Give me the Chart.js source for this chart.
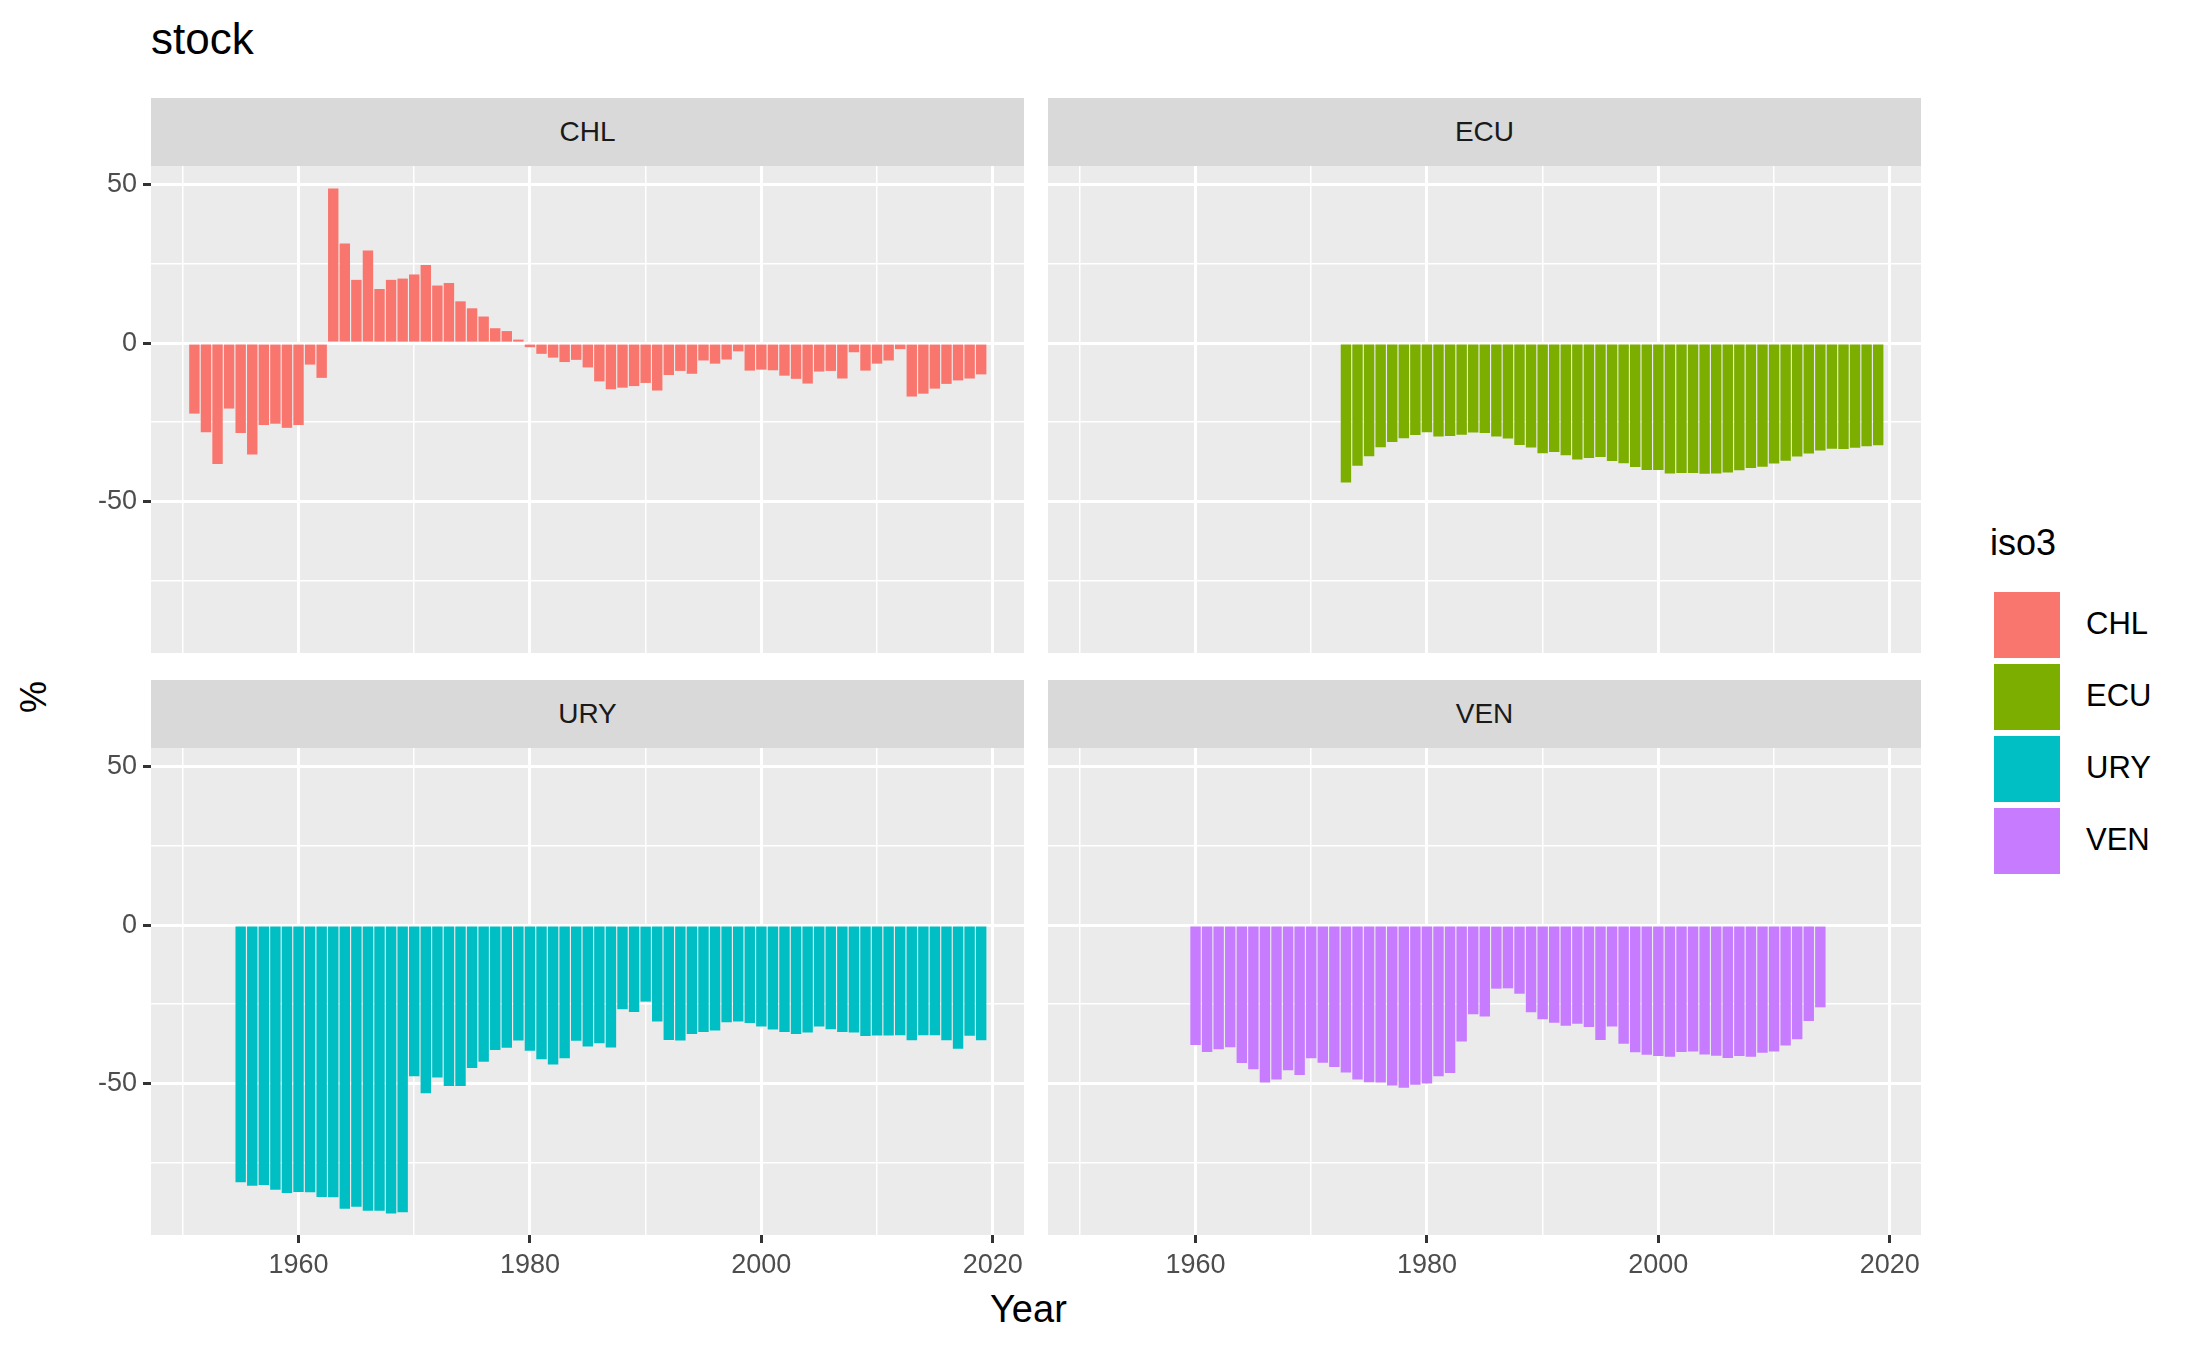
<!DOCTYPE html>
<html>
<head>
<meta charset="utf-8">
<script src="https://cdn.jsdelivr.net/npm/chart.js@4"></script>
<style>
  body { margin: 0; background: #fff; font-family: "Liberation Sans", Arial, sans-serif; }
  #page { position: relative; width: 2189px; height: 1352px; }
  .abs { position: absolute; }
  .strip { position: absolute; background: #D9D9D9; color: #1A1A1A; font-size: 28px;
           display: flex; align-items: center; justify-content: center; }
  .key { position: absolute; width: 66px; height: 66px; }
  .lab { position: absolute; font-size: 31px; color: #000; }
</style>
</head>
<body>
<div id="page">
  <div class="abs" style="left:151px;top:14px;font-size:44px;">stock</div>
  <div class="abs" style="left:990px;top:1288px;font-size:38px;">Year</div>
  <div class="abs" style="left:18px;top:676px;font-size:36px;transform:rotate(-90deg);transform-origin:center;">%</div>
  <div class="abs" style="left:1990px;top:522px;font-size:36px;">iso3</div>
</div>
<script>
const countries = ["CHL", "ECU", "URY", "VEN"];
const colors = ["#F8766D", "#7CAE00", "#00BFC4", "#C77CFF"];
const startYears = [1951, 1973, 1955, 1960];

const chlValues = [-22.3, -28.2, -38.2, -20.7, -28.4, -35.2, -25.9, -25.5, -26.8, -25.9, -6.8, -11,
  48.9, 31.5, 20, 29.3, 17.1, 20, 20.4, 21.7, 24.7, 18.2, 19, 13.2, 11, 8.4, 4.7, 3.8, 1.1,
  -1.3, -3.4, -4.6, -6, -5.3, -7.7, -12.1, -14.6, -14.1, -13.6, -12.6, -15, -10.1, -8.8, -9.7,
  -5.5, -6.5, -5.2, -2.6, -8.7, -8.4, -8.6, -10.3, -11.3, -12.8, -9, -8.8, -11.2, -2.9, -8.7,
  -6.5, -5.5, -1.9, -16.9, -16, -14.4, -12.9, -11.8, -11.2, -9.9];
const ecuValues = [-44.1, -38.8, -35.8, -32.9, -31.3, -30.1, -29.1, -28.2, -29.5, -29.4, -29,
  -28.3, -28.4, -29.5, -30.2, -32.2, -33, -34.8, -34.4, -35.5, -36.8, -36.3, -36, -37.3, -38,
  -39.2, -40.1, -40.1, -41.2, -41.1, -41.1, -41.3, -41.2, -40.9, -40.2, -39.5, -39.1, -38.1,
  -37.2, -35.9, -34.9, -34, -33.4, -33.5, -33.1, -32.6, -32.3];
const uryValues = [-81.3, -82.4, -82.2, -83.7, -84.7, -84.4, -84.5, -86, -86.1, -89.7, -89.1,
  -90.3, -90.3, -91.2, -90.8, -47.8, -53.2, -48.2, -50.9, -50.9, -45.2, -43.2, -39.5, -38.8,
  -36.5, -39.7, -42.4, -44.1, -42.1, -36.6, -38.4, -37.4, -38.7, -26.6, -27.5, -24.2, -30.5,
  -36.3, -36.5, -34.4, -33.8, -33.3, -30.7, -30.5, -31, -32.1, -33, -33.8, -34.4, -34, -32.1,
  -32.9, -33.8, -34, -35.1, -34.9, -34.9, -34.8, -36.4, -34.8, -34.8, -36.4, -39.1, -35, -36.4];
const venValues = [-37.9, -40.1, -39.3, -38.6, -43.6, -45.6, -49.8, -48.8, -45.9, -47.4,
  -42.1, -43.5, -44.9, -46.6, -48.8, -49.7, -49.8, -50.7, -51.4, -50.5,
  -50.1, -47.8, -46.8, -36.8, -28.2, -28.9, -20.1, -20, -21.7, -27.6,
  -29.8, -30.9, -31.8, -31.2, -32.2, -36.3, -32.1, -37.5, -40.2, -41,
  -41.4, -41.6, -40.1, -40, -40.9, -41.3, -42, -41.4, -41.6, -40.4,
  -40, -38.1, -36.1, -30.3, -26];
const seriesValues = [chlValues, ecuValues, uryValues, venValues];

const yTickLabels = [50, 0, -50];
const xTickLabels = [1960, 1980, 2000, 2020];

const page = document.getElementById("page");
const panelW = 873, panelH = 487, axisW = 70, axisH = 70;
const panelX = [151, 1048], panelY = [166, 748];

const panelBg = {
  id: "panelBg",
  beforeDraw(chart) {
    const a = chart.chartArea;
    chart.ctx.save();
    chart.ctx.fillStyle = "#EBEBEB";
    chart.ctx.fillRect(a.left, a.top, a.right - a.left, a.bottom - a.top);
    chart.ctx.restore();
  },
};

countries.forEach((name, i) => {
  const col = i % 2, row = Math.floor(i / 2);
  const left = panelX[col], top = panelY[row];

  const strip = document.createElement("div");
  strip.className = "strip";
  strip.style.left = left + "px";
  strip.style.top = (top - 68) + "px";
  strip.style.width = panelW + "px";
  strip.style.height = "68px";
  strip.textContent = name;
  page.appendChild(strip);

  const box = document.createElement("div");
  box.className = "abs";
  box.style.left = (left - axisW) + "px";
  box.style.top = top + "px";
  box.style.width = (panelW + axisW) + "px";
  box.style.height = (panelH + axisH) + "px";
  const canvas = document.createElement("canvas");
  box.appendChild(canvas);
  page.appendChild(box);

  const points = seriesValues[i].map((v, k) => ({ x: startYears[i] + k, y: v }));

  new Chart(canvas, {
    type: "bar",
    data: {
      datasets: [{
        data: points,
        backgroundColor: colors[i],
        borderWidth: 0,
        barPercentage: 0.9,
        categoryPercentage: 1,
      }],
    },
    plugins: [panelBg],
    options: {
      responsive: true,
      maintainAspectRatio: false,
      animation: false,
      layout: { padding: 0 },
      plugins: { legend: { display: false }, tooltip: { enabled: false } },
      scales: {
        x: {
          type: "linear",
          offset: false,
          min: 1947.25,
          max: 2022.7,
          afterFit: (s) => { s.height = axisH; s.paddingLeft = 0; s.paddingRight = 0; },
          border: { display: false },
          grid: {
            offset: false,
            color: "#fff",
            lineWidth: (c) => (c.tick && c.tick.value % 20 === 0 ? 3 : 1.5),
            tickColor: (c) => (c.tick && c.tick.value % 20 === 0 && row === 1 ? "#333" : "rgba(0,0,0,0)"),
            tickLength: 8,
          },
          ticks: {
            stepSize: 10,
            includeBounds: false,
            autoSkip: false,
            maxRotation: 0,
            padding: 6,
            color: "#4D4D4D",
            font: { size: 27, family: "Liberation Sans" },
            callback: (v) => (row === 1 && xTickLabels.includes(v) ? String(v) : ""),
          },
        },
        y: {
          min: -98,
          max: 56,
          afterFit: (s) => { s.width = axisW; s.paddingTop = 0; s.paddingBottom = 0; },
          border: { display: false },
          grid: {
            color: "#fff",
            lineWidth: (c) => (c.tick && c.tick.value % 50 === 0 ? 3 : 1.5),
            tickColor: (c) => (c.tick && c.tick.value % 50 === 0 && col === 0 ? "#333" : "rgba(0,0,0,0)"),
            tickLength: 8,
          },
          ticks: {
            stepSize: 25,
            includeBounds: false,
            autoSkip: false,
            padding: 6,
            color: "#4D4D4D",
            font: { size: 27, family: "Liberation Sans" },
            callback: (v) => (col === 0 && yTickLabels.includes(v) ? String(v) : ""),
          },
        },
      },
    },
  });
});

countries.forEach((name, i) => {
  const key = document.createElement("div");
  key.className = "key";
  key.style.left = "1992px";
  key.style.top = (590 + i * 72) + "px";
  key.style.background = colors[i];
  key.style.border = "2px solid #fff";
  page.appendChild(key);
  const lab = document.createElement("div");
  lab.className = "lab";
  lab.style.left = "2086px";
  lab.style.top = (606 + i * 72) + "px";
  lab.textContent = name;
  page.appendChild(lab);
});
</script>
</body>
</html>
